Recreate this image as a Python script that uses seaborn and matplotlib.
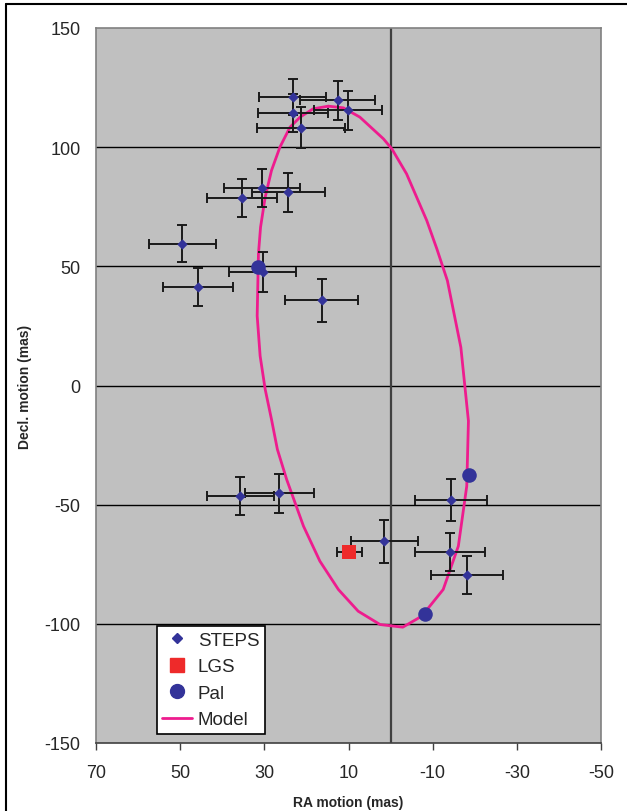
import numpy as np
import pandas as pd
import matplotlib
matplotlib.use('Agg')
import matplotlib.pyplot as plt
from matplotlib.lines import Line2D
import seaborn as sns

# STEPS astrometry (RA / Decl. offsets in mas)
steps_ra = [23.3, 12.6, 23.1, 10.1, 21.3, 30.6, 35.4, 24.3, 49.5, 45.8, 30.4, 16.4, 35.7, 26.4, -14.4, 1.5, -14.1, -18.2]
steps_dec = [121.0, 119.6, 114.3, 115.4, 108.1, 82.9, 78.6, 81.0, 59.5, 41.3, 47.7, 35.8, -46.4, -45.3, -48.2, -65.4, -70.0, -79.6]
steps_ra_err = [8, 9, 8.3, 8, 10.4, 9, 8.3, 8.7, 8, 8.3, 8, 8.6, 8, 8.1, 8.5, 7.9, 8.4, 8.5]
steps_dec_err = [7.7, 8, 8, 8, 8.6, 8, 7.9, 8, 7.8, 7.8, 8.3, 9, 8, 8, 8.8, 9, 8, 8]

lgs_ra = [9.8]
lgs_dec = [-70.0]
lgs_ra_err = [3]
lgs_dec_err = [2.5]

pal_ra = [31.6, -18.7, -8.2]
pal_dec = [49.8, -37.7, -96.0]

# model orbit
model_ra = [14.8, 18.4, 21.5, 23.9, 26.3, 28.3, 29.8, 30.9, 31.4, 31.7, 31.0, 29.8, 28.3, 26.9,
            24.7, 20.7, 16.8, 12.4, 7.7, 2.5, -2.9, -7.4, -12.5, -16.1, -18.1, -18.5, -16.7,
            -13.5, -11.0, -8.6, -3.8, -0.3, 1.7, 7.3, 11.2, 14.8]
model_dec = [117.2, 116.1, 112.6, 108.4, 100.0, 90.2, 79.0, 66.4, 55.2, 29.2, 12.4, -1.6, -14.2, -26.8,
             -39.4, -59.0, -73.7, -85.6, -94.7, -100.3, -101.4, -96.8, -85.6, -67.4, -42.2, -14.9, 16.0,
             44.0, 57.3, 69.2, 88.8, 99.3, 103.5, 112.6, 116.5, 117.2]

x_ticks = [70, 50, 30, 10, -10, -30, -50]
y_ticks = [-150, -100, -50, 0, 50, 100, 150]

navy = '#333399'
pink = '#EE1C8E'
red = '#EE2A2A'

sns.set_style('white')
plt.rcParams['font.family'] = ['Liberation Sans', 'DejaVu Sans']
plt.rcParams['axes.unicode_minus'] = False

fig = plt.figure(figsize=(6.27, 8.12), dpi=100)
ax = fig.add_axes([96 / 627, 1 - 744 / 812, 505 / 627, 715 / 812])
ax.set_facecolor('#C0C0C0')

for yv in [-100, -50, 0, 50, 100]:
    ax.axhline(yv, color='black', lw=1.0, zorder=1)
ax.axvline(0, color='#404040', lw=1.6, zorder=1)

df_model = pd.DataFrame({'ra': model_ra, 'dec': model_dec})
sns.lineplot(data=df_model, x='ra', y='dec', sort=False, estimator=None, color=pink, lw=2.0, ax=ax, zorder=2)

ax.errorbar(steps_ra, steps_dec, xerr=steps_ra_err, yerr=steps_dec_err, fmt='none',
            ecolor='#1a1a1a', elinewidth=1.4, capsize=3.5, capthick=1.4, zorder=3)
ax.errorbar(lgs_ra, lgs_dec, xerr=lgs_ra_err, yerr=lgs_dec_err, fmt='none',
            ecolor='#1a1a1a', elinewidth=1.4, capsize=3.5, capthick=1.4, zorder=3)

df_steps = pd.DataFrame({'ra': steps_ra, 'dec': steps_dec})
sns.scatterplot(data=df_steps, x='ra', y='dec', marker='D', s=28, color=navy, edgecolor=navy, linewidth=0, ax=ax, zorder=4)
df_lgs = pd.DataFrame({'ra': lgs_ra, 'dec': lgs_dec})
sns.scatterplot(data=df_lgs, x='ra', y='dec', marker='s', s=110, color=red, edgecolor=red, linewidth=0, ax=ax, zorder=4)
df_pal = pd.DataFrame({'ra': pal_ra, 'dec': pal_dec})
sns.scatterplot(data=df_pal, x='ra', y='dec', marker='o', s=110, color=navy, edgecolor=navy, linewidth=0, ax=ax, zorder=4)

ax.set_xlim(70, -50)
ax.set_ylim(-150, 150)
ax.set_xticks(x_ticks)
ax.set_yticks(y_ticks)
ax.tick_params(axis='x', direction='out', length=5, width=1, color='#404040', pad=10, labelsize=13, bottom=True)
ax.tick_params(axis='y', length=0, pad=11, labelsize=13)
for s in ['top', 'right', 'left']:
    ax.spines[s].set_color('#808080')
    ax.spines[s].set_linewidth(1.2)
ax.spines['bottom'].set_color('#404040')
ax.spines['bottom'].set_linewidth(1.2)

ax.set_xlabel('RA motion (mas)', fontsize=10, fontweight='bold', labelpad=10)
ax.set_ylabel('Decl. motion (mas)', fontsize=10, fontweight='bold', labelpad=9)

handles = [
    Line2D([], [], ls='none', marker='D', ms=5, color=navy, mec=navy),
    Line2D([], [], ls='none', marker='s', ms=10, color=red, mec=red),
    Line2D([], [], ls='none', marker='o', ms=10, color=navy, mec=navy),
    Line2D([], [], color=pink, lw=2),
]
leg = ax.legend(handles, ['STEPS', 'LGS', 'Pal', 'Model'], loc='lower left',
                bbox_to_anchor=(0.12, 0.0126), borderaxespad=0, fontsize=13.5,
                frameon=True, fancybox=False, framealpha=1, edgecolor='black',
                handlelength=1.6, labelspacing=0.5, borderpad=0.3, handletextpad=0.3)
leg.get_frame().set_linewidth(1.2)

# outer chart frame
fig.add_artist(Line2D([6 / 627, 6 / 627], [0, 1 - 5 / 812], transform=fig.transFigure, color='black', lw=1.5))
fig.add_artist(Line2D([6 / 627, 1], [1 - 5 / 812, 1 - 5 / 812], transform=fig.transFigure, color='black', lw=1.5))

fig.savefig('out.png', dpi=100)
